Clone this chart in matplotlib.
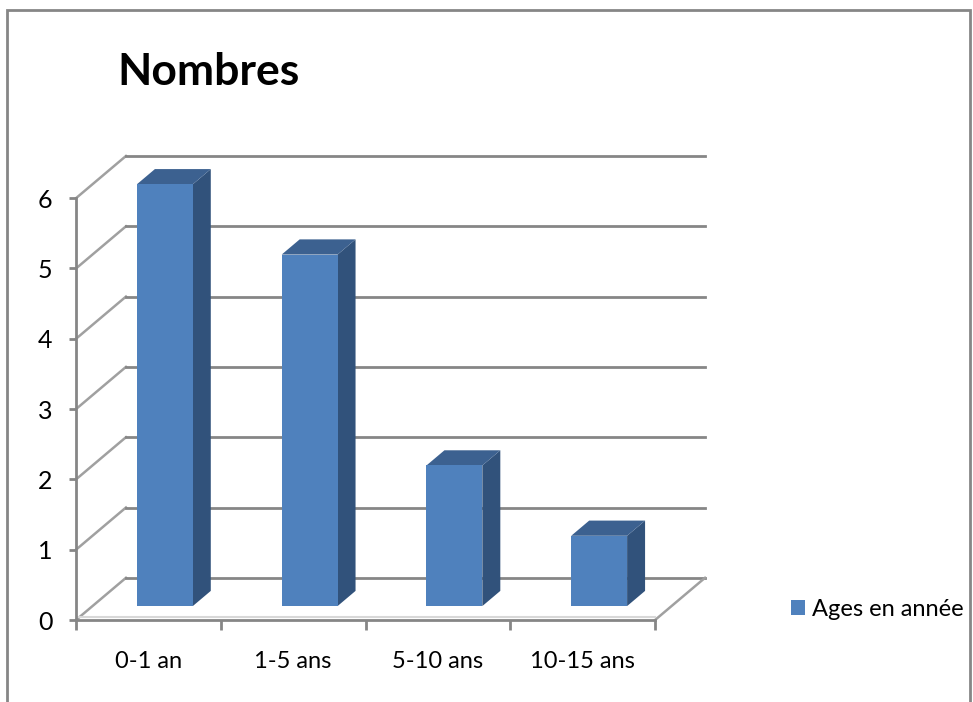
import matplotlib.pyplot as plt
from matplotlib.patches import Polygon, Rectangle, Patch

categories = ["0-1 an", "1-5 ans", "5-10 ans", "10-15 ans"]
values = [6, 5, 2, 1]
series_name = "Ages en année"
yticks = [0, 1, 2, 3, 4, 5, 6]

plt.rcParams["font.family"] = ["Lato", "DejaVu Sans"]

front = "#4f81bd"
top_c = "#3c6190"
side_c = "#31527b"
grid_c = "#868686"

# fake 3d depth, in data units
dx, dy = 0.345, 0.6
d1, d2 = 0.33, 0.69
w = 0.386

fig = plt.figure(figsize=(9.73, 7.02), dpi=100)
ax = fig.add_axes([76 / 973, 1 - 620 / 702, 629 / 973, (620 - 156) / 702])
n = len(categories)
ax.set_xlim(-0.5, n - 0.5 + dx)
ax.set_ylim(0, max(yticks) + dy)

# back wall + left wall grid
for y in yticks:
    ax.plot([-0.5, -0.5 + dx], [y, y + dy], color="#a0a0a0", lw=1.8, zorder=1, clip_on=False)
    ax.plot([-0.5 + dx, n - 0.5 + dx], [y + dy, y + dy], color=grid_c, lw=2, zorder=1, clip_on=False)
# floor right edge
ax.plot([n - 0.5, n - 0.5 + dx], [0, dy], color="#a0a0a0", lw=1.8, zorder=1, clip_on=False)
ax.plot([-0.5, n - 0.5], [0.04, 0.04], color="#d8d8d8", lw=1.5, zorder=1)

# bars
for i, v in enumerate(values):
    xl = i - w / 2 + d1 * dx
    xr = i + w / 2 + d1 * dx
    yb = d1 * dy
    yt = v + d1 * dy
    ox, oy = (d2 - d1) * dx, (d2 - d1) * dy
    ax.add_patch(Polygon([(xr, yb), (xr + ox, yb + oy), (xr + ox, yt + oy), (xr, yt)],
                         closed=True, facecolor=side_c, edgecolor="none", zorder=3))
    ax.add_patch(Polygon([(xl, yt), (xr, yt), (xr + ox, yt + oy), (xl + ox, yt + oy)],
                         closed=True, facecolor=top_c, edgecolor="none", zorder=3))
    ax.add_patch(Rectangle((xl, yb), xr - xl, yt - yb, facecolor=front, edgecolor="none", zorder=4))

# axes
for s in ["top", "right"]:
    ax.spines[s].set_visible(False)
ax.spines["left"].set_bounds(0, max(yticks))
ax.spines["bottom"].set_bounds(-0.5, n - 0.5)
for s in ["left", "bottom"]:
    ax.spines[s].set_color(grid_c)
    ax.spines[s].set_linewidth(2)
    ax.spines[s].set_zorder(5)

ax.set_yticks(yticks)
ax.tick_params(axis="y", length=5, width=2, color=grid_c, pad=12, labelsize=18)
ax.set_xticks(range(n))
ax.set_xticklabels(categories)
ax.set_xticks([i - 0.5 for i in range(n + 1)], minor=True)
ax.tick_params(axis="x", which="major", length=0, pad=22, labelsize=17)
ax.tick_params(axis="x", which="minor", length=7, width=2, color=grid_c)

fig.text(117 / 973, 1 - 72 / 702, "Nombres", fontsize=32, fontweight="bold", va="center")

fig.legend(handles=[Patch(facecolor=front)], labels=[series_name], loc="center left",
           bbox_to_anchor=(791 / 973, 1 - 609 / 702), frameon=False, fontsize=17,
           borderpad=0, borderaxespad=0,
           handlelength=0.6, handleheight=0.6, handletextpad=0.3)

fig.patches.append(Rectangle((7 / 973, -0.05), 963 / 973, 1.05 - 10 / 702, transform=fig.transFigure,
                             fill=False, edgecolor=grid_c, lw=2))

fig.savefig("out.png", dpi=100)
